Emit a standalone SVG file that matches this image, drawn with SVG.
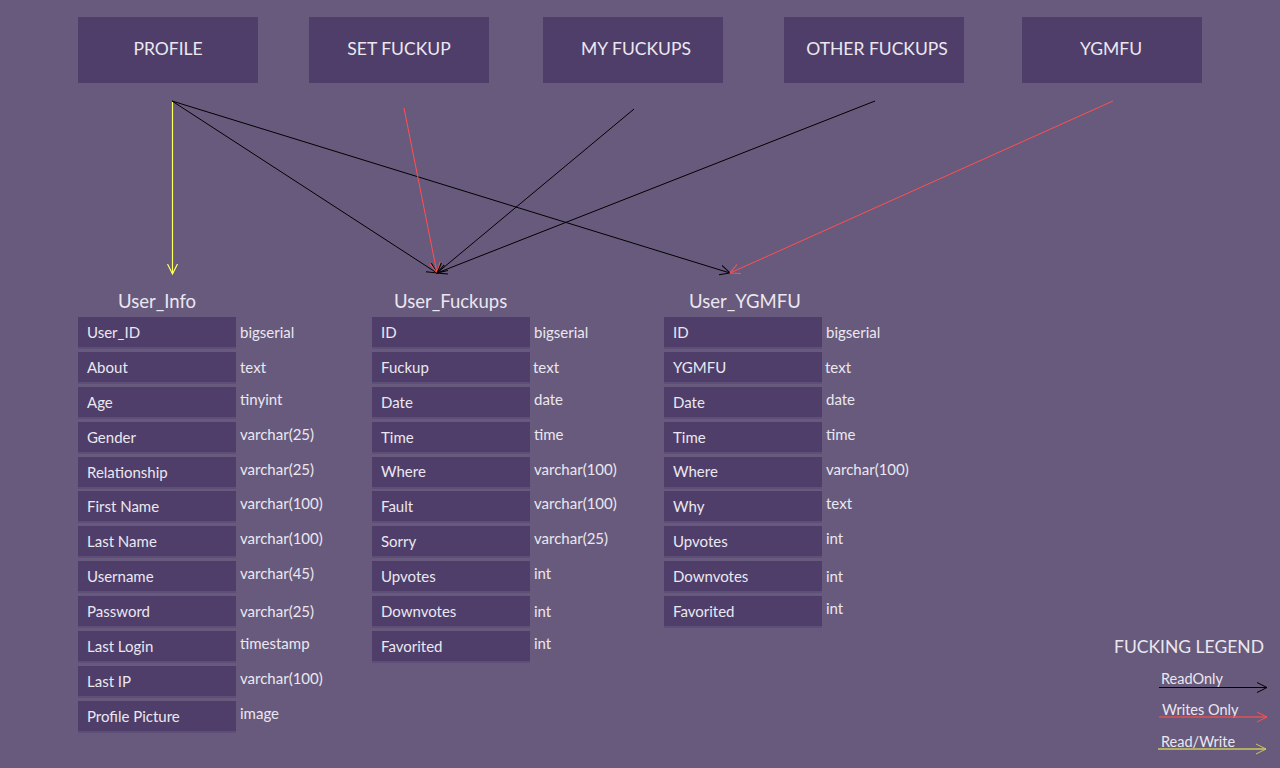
<svg xmlns="http://www.w3.org/2000/svg" width="1280" height="768" viewBox="0 0 1280 768">
<style>
.bg{fill:#675a7c}
.nb{fill:#4e3e69}
.rb{fill:#4e3e69}
.rs{fill:#5d4f77}
.t{font-family:Lato,"Liberation Sans",sans-serif;fill:#ebe7f0}
.top{font-size:17.5px;text-anchor:middle}
.hd{font-size:18.5px}
.rl{font-size:15px}
.ty{font-size:15px}
.lg{font-size:14.5px}
.k{stroke:#000;stroke-width:1;fill:none}
.r{stroke:#ff5050;stroke-width:1;fill:none}
.y{stroke:#ffff60;stroke-width:1.2;fill:none}
.yl{stroke:#cdc85a;stroke-width:1.5;fill:none}
.rl2{stroke:#e05050;stroke-width:1.5;fill:none}
</style>
<defs>
<marker id="ak" markerUnits="userSpaceOnUse" markerWidth="12" markerHeight="12" refX="10" refY="5" orient="auto" viewBox="0 0 12 10"><path d="M0,0 L10,5 L0,10" stroke="#000" fill="none" stroke-width="1"/></marker>
<marker id="ar" markerUnits="userSpaceOnUse" markerWidth="12" markerHeight="12" refX="10" refY="5" orient="auto" viewBox="0 0 12 10"><path d="M0,0 L10,5 L0,10" stroke="#ff5050" fill="none" stroke-width="1"/></marker>
<marker id="ay" markerUnits="userSpaceOnUse" markerWidth="12" markerHeight="12" refX="10" refY="5" orient="auto" viewBox="0 0 12 10"><path d="M0,0 L10,5 L0,10" stroke="#ffff60" fill="none" stroke-width="1.2"/></marker>
<marker id="ayl" markerUnits="userSpaceOnUse" markerWidth="12" markerHeight="12" refX="10" refY="5" orient="auto" viewBox="0 0 12 10"><path d="M0,0 L10,5 L0,10" stroke="#cdc85a" fill="none" stroke-width="1"/></marker>
</defs>
<rect class="bg" x="0" y="0" width="1280" height="768"/>

<g id="node-profile"><rect class="nb" x="78" y="17" width="180" height="66"/><text class="t top" x="168" y="55">PROFILE</text></g>
<g id="node-setfuckup"><rect class="nb" x="309" y="17" width="180" height="66"/><text class="t top" x="399" y="55">SET FUCKUP</text></g>
<g id="node-myfuckups"><rect class="nb" x="543" y="17" width="180" height="66"/><text class="t top" x="636" y="55">MY FUCKUPS</text></g>
<g id="node-otherfuckups"><rect class="nb" x="784" y="17" width="180" height="66"/><text class="t top" x="877" y="55">OTHER FUCKUPS</text></g>
<g id="node-ygmfu"><rect class="nb" x="1022" y="17" width="180" height="66"/><text class="t top" x="1111" y="55">YGMFU</text></g>

<g id="connectors">
<line class="y" x1="172.5" y1="101" x2="172.5" y2="274" marker-end="url(#ay)"/>
<line class="k" x1="172" y1="101" x2="437" y2="273" marker-end="url(#ak)"/>
<line class="k" x1="172" y1="101" x2="730" y2="273" marker-end="url(#ak)"/>
<line class="r" x1="404" y1="108" x2="437" y2="273" marker-end="url(#ar)"/>
<line class="k" x1="634" y1="109" x2="437" y2="273" marker-end="url(#ak)"/>
<line class="k" x1="875" y1="101" x2="437" y2="273" marker-end="url(#ak)"/>
<line class="r" x1="1113" y1="101" x2="730" y2="273" marker-end="url(#ar)"/>
</g>

<g id="table-user-info">
<text class="t hd" x="118" y="308">User_Info</text>
<g transform="translate(78,317)"><rect class="rs" y="0" width="158" height="32"/><rect class="rb" width="158" height="30"/><text class="t rl" x="9" y="21">User_ID</text><text class="t ty" x="162" y="21">bigserial</text></g>
<g transform="translate(78,352)"><rect class="rs" y="0" width="158" height="32"/><rect class="rb" width="158" height="30"/><text class="t rl" x="9" y="21">About</text><text class="t ty" x="162" y="21">text</text></g>
<g transform="translate(78,387)"><rect class="rs" y="0" width="158" height="32"/><rect class="rb" width="158" height="30"/><text class="t rl" x="9" y="21">Age</text><text class="t ty" x="162" y="18">tinyint</text></g>
<g transform="translate(78,422)"><rect class="rs" y="0" width="158" height="32"/><rect class="rb" width="158" height="30"/><text class="t rl" x="9" y="21">Gender</text><text class="t ty" x="162" y="18">varchar(25)</text></g>
<g transform="translate(78,457)"><rect class="rs" y="0" width="158" height="32"/><rect class="rb" width="158" height="30"/><text class="t rl" x="9" y="21">Relationship</text><text class="t ty" x="162" y="18">varchar(25)</text></g>
<g transform="translate(78,491)"><rect class="rs" y="0" width="158" height="32"/><rect class="rb" width="158" height="30"/><text class="t rl" x="9" y="21">First Name</text><text class="t ty" x="162" y="18">varchar(100)</text></g>
<g transform="translate(78,526)"><rect class="rs" y="0" width="158" height="32"/><rect class="rb" width="158" height="30"/><text class="t rl" x="9" y="21">Last Name</text><text class="t ty" x="162" y="18">varchar(100)</text></g>
<g transform="translate(78,561)"><rect class="rs" y="0" width="158" height="32"/><rect class="rb" width="158" height="30"/><text class="t rl" x="9" y="21">Username</text><text class="t ty" x="162" y="18">varchar(45)</text></g>
<g transform="translate(78,596)"><rect class="rs" y="0" width="158" height="32"/><rect class="rb" width="158" height="30"/><text class="t rl" x="9" y="21">Password</text><text class="t ty" x="162" y="21">varchar(25)</text></g>
<g transform="translate(78,631)"><rect class="rs" y="0" width="158" height="32"/><rect class="rb" width="158" height="30"/><text class="t rl" x="9" y="21">Last Login</text><text class="t ty" x="162" y="18">timestamp</text></g>
<g transform="translate(78,666)"><rect class="rs" y="0" width="158" height="32"/><rect class="rb" width="158" height="30"/><text class="t rl" x="9" y="21">Last IP</text><text class="t ty" x="162" y="18">varchar(100)</text></g>
<g transform="translate(78,701)"><rect class="rs" y="0" width="158" height="32"/><rect class="rb" width="158" height="30"/><text class="t rl" x="9" y="21">Profile Picture</text><text class="t ty" x="162" y="18">image</text></g>
</g>

<g id="table-user-fuckups">
<text class="t hd" x="394" y="308">User_Fuckups</text>
<g transform="translate(372,317)"><rect class="rs" width="158" height="32"/><rect class="rb" width="158" height="30"/><text class="t rl" x="9" y="21">ID</text><text class="t ty" x="162" y="21">bigserial</text></g>
<g transform="translate(372,352)"><rect class="rs" width="158" height="32"/><rect class="rb" width="158" height="30"/><text class="t rl" x="9" y="21">Fuckup</text><text class="t ty" x="161" y="21">text</text></g>
<g transform="translate(372,387)"><rect class="rs" width="158" height="32"/><rect class="rb" width="158" height="30"/><text class="t rl" x="9" y="21">Date</text><text class="t ty" x="162" y="18">date</text></g>
<g transform="translate(372,422)"><rect class="rs" width="158" height="32"/><rect class="rb" width="158" height="30"/><text class="t rl" x="9" y="21">Time</text><text class="t ty" x="162" y="18">time</text></g>
<g transform="translate(372,457)"><rect class="rs" width="158" height="32"/><rect class="rb" width="158" height="30"/><text class="t rl" x="9" y="20">Where</text><text class="t ty" x="162" y="18">varchar(100)</text></g>
<g transform="translate(372,491)"><rect class="rs" width="158" height="32"/><rect class="rb" width="158" height="30"/><text class="t rl" x="9" y="21">Fault</text><text class="t ty" x="162" y="18">varchar(100)</text></g>
<g transform="translate(372,526)"><rect class="rs" width="158" height="32"/><rect class="rb" width="158" height="30"/><text class="t rl" x="9" y="21">Sorry</text><text class="t ty" x="162" y="18">varchar(25)</text></g>
<g transform="translate(372,561)"><rect class="rs" width="158" height="32"/><rect class="rb" width="158" height="30"/><text class="t rl" x="9" y="21">Upvotes</text><text class="t ty" x="162" y="18">int</text></g>
<g transform="translate(372,596)"><rect class="rs" width="158" height="32"/><rect class="rb" width="158" height="30"/><text class="t rl" x="9" y="21">Downvotes</text><text class="t ty" x="162" y="21">int</text></g>
<g transform="translate(372,631)"><rect class="rs" width="158" height="32"/><rect class="rb" width="158" height="30"/><text class="t rl" x="9" y="21">Favorited</text><text class="t ty" x="162" y="18">int</text></g>
</g>

<g id="table-user-ygmfu">
<text class="t hd" x="689" y="308">User_YGMFU</text>
<g transform="translate(664,317)"><rect class="rs" width="158" height="32"/><rect class="rb" width="158" height="30"/><text class="t rl" x="9" y="21">ID</text><text class="t ty" x="162" y="21">bigserial</text></g>
<g transform="translate(664,352)"><rect class="rs" width="158" height="32"/><rect class="rb" width="158" height="30"/><text class="t rl" x="9" y="21">YGMFU</text><text class="t ty" x="161" y="21">text</text></g>
<g transform="translate(664,387)"><rect class="rs" width="158" height="32"/><rect class="rb" width="158" height="30"/><text class="t rl" x="9" y="21">Date</text><text class="t ty" x="162" y="18">date</text></g>
<g transform="translate(664,422)"><rect class="rs" width="158" height="32"/><rect class="rb" width="158" height="30"/><text class="t rl" x="9" y="21">Time</text><text class="t ty" x="162" y="18">time</text></g>
<g transform="translate(664,457)"><rect class="rs" width="158" height="32"/><rect class="rb" width="158" height="30"/><text class="t rl" x="9" y="20">Where</text><text class="t ty" x="162" y="18">varchar(100)</text></g>
<g transform="translate(664,491)"><rect class="rs" width="158" height="32"/><rect class="rb" width="158" height="30"/><text class="t rl" x="9" y="21">Why</text><text class="t ty" x="162" y="18">text</text></g>
<g transform="translate(664,526)"><rect class="rs" width="158" height="32"/><rect class="rb" width="158" height="30"/><text class="t rl" x="9" y="21">Upvotes</text><text class="t ty" x="162" y="18">int</text></g>
<g transform="translate(664,561)"><rect class="rs" width="158" height="32"/><rect class="rb" width="158" height="30"/><text class="t rl" x="9" y="21">Downvotes</text><text class="t ty" x="162" y="21">int</text></g>
<g transform="translate(664,596)"><rect class="rs" width="158" height="32"/><rect class="rb" width="158" height="30"/><text class="t rl" x="9" y="21">Favorited</text><text class="t ty" x="162" y="18">int</text></g>
</g>

<g id="legend">
<text class="t top" x="1189" y="653">FUCKING LEGEND</text>
<text class="t lg" x="1161" y="684">ReadOnly</text>
<line class="k" x1="1159" y1="687.5" x2="1267" y2="687.5" marker-end="url(#ak)"/>
<text class="t lg" x="1162" y="715">Writes Only</text>
<line class="rl2" x1="1159" y1="717" x2="1267" y2="717" marker-end="url(#ar)"/>
<text class="t lg" x="1161" y="747">Read/Write</text>
<line class="yl" x1="1158" y1="749" x2="1266" y2="749" marker-end="url(#ayl)"/>
</g>
</svg>
